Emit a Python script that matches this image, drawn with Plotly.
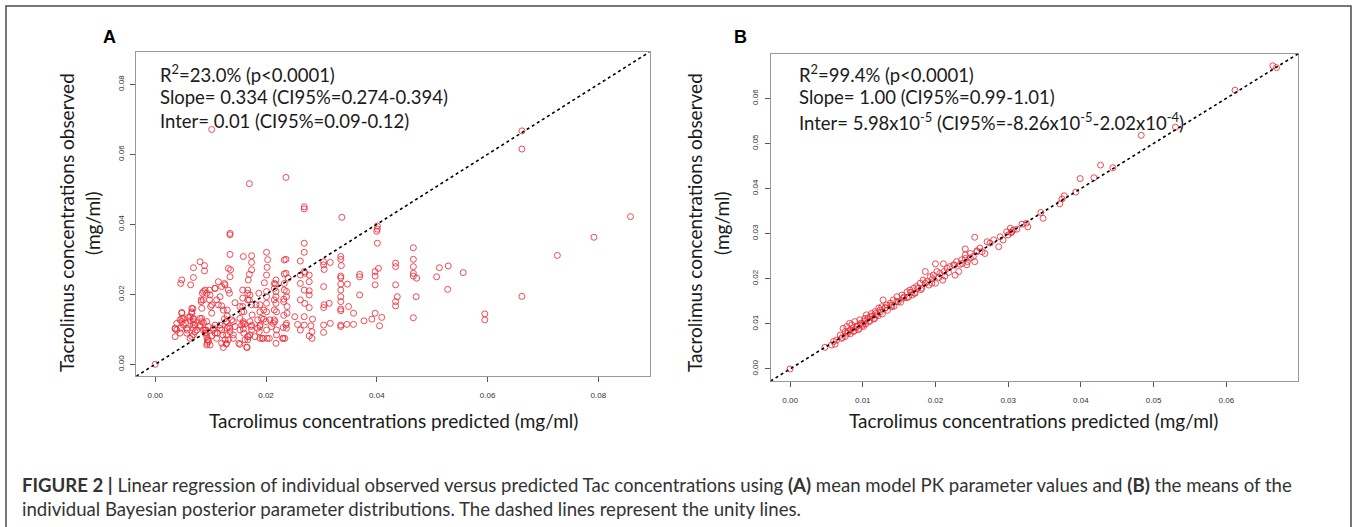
import plotly.graph_objects as go

# ---- Panel A: mean model PK parameters (predicted vs observed, mg/ml) ----
A_pred = [
    0.0,
    0.0135, 0.0135, 0.0135, 0.0081, 0.0089, 0.0089, 0.0069, 0.0048, 0.0046, 0.0069,
    0.0064, 0.0132, 0.0136, 0.0135, 0.0159, 0.0174, 0.0174, 0.0174, 0.0170, 0.0168,
    0.0201, 0.0203, 0.0202, 0.0201, 0.0218, 0.0217, 0.0236, 0.0236, 0.0240,
    0.0087, 0.0093, 0.0099, 0.0108, 0.0120, 0.0126, 0.0132, 0.0134,
    0.0102, 0.0087, 0.0084, 0.0111, 0.0114, 0.0120, 0.0123, 0.0102,
    0.0066, 0.0066, 0.0048, 0.0048, 0.0051, 0.0036, 0.0036, 0.0045, 0.0057, 0.0057,
    0.0069, 0.0069, 0.0072, 0.0069, 0.0081, 0.0084, 0.0081, 0.0087, 0.0090,
    0.0093, 0.0096, 0.0093, 0.0096, 0.0099, 0.0105, 0.0108, 0.0111,
    0.0117, 0.0120, 0.0122, 0.0123, 0.0129, 0.0132, 0.0135, 0.0132, 0.0129,
    0.0141, 0.0144, 0.0141,
    0.0153, 0.0156, 0.0153, 0.0159, 0.0156, 0.0159, 0.0160, 0.0153, 0.0166,
    0.0171, 0.0170, 0.0174, 0.0171, 0.0174, 0.0171,
    0.0189, 0.0189, 0.0192, 0.0189, 0.0188, 0.0189,
    0.0201, 0.0201, 0.0201, 0.0201, 0.0200, 0.0202,
    0.0218, 0.0218, 0.0218, 0.0219, 0.0216, 0.0219,
    0.0237, 0.0237, 0.0238, 0.0238, 0.0236, 0.0237, 0.0234,
    0.0048, 0.0039, 0.0039, 0.0046, 0.0055, 0.0058, 0.0063, 0.0066, 0.0068, 0.0069,
    0.0069, 0.0066, 0.0063, 0.0083, 0.0083, 0.0085, 0.0090, 0.0098, 0.0098, 0.0100,
    0.0092, 0.0092, 0.0094, 0.0094, 0.0108, 0.0114, 0.0117, 0.0125, 0.0130, 0.0130,
    0.0125, 0.0128, 0.0130, 0.0128, 0.0144, 0.0151, 0.0158, 0.0158, 0.0158, 0.0160,
    0.0162, 0.0167, 0.0167, 0.0167, 0.0167, 0.0167, 0.0173, 0.0175, 0.0182, 0.0185,
    0.0185, 0.0187, 0.0193, 0.0197, 0.0196, 0.0196, 0.0206, 0.0210, 0.0215, 0.0215,
    0.0215, 0.0215, 0.0215, 0.0218, 0.0232, 0.0232, 0.0233, 0.0233, 0.0232, 0.0231,
    0.0230, 0.0233, 0.0233,
    0.0036, 0.0045, 0.0048, 0.0051, 0.0060, 0.0063, 0.0069, 0.0072, 0.0075, 0.0081,
    0.0084, 0.0087, 0.0090, 0.0093, 0.0096, 0.0102, 0.0105, 0.0108, 0.0112, 0.0117,
    0.0120, 0.0126, 0.0129, 0.0135, 0.0138, 0.0141, 0.0153, 0.0159, 0.0162, 0.0165,
    0.0168, 0.0174, 0.0180, 0.0189, 0.0195, 0.0201, 0.0207, 0.0213, 0.0219, 0.0231,
    0.0237,
    0.0269, 0.0269, 0.0262, 0.0269, 0.0270, 0.0262, 0.0262, 0.0278, 0.0278,
    0.0269, 0.0278, 0.0278, 0.0262, 0.0270, 0.0278, 0.0252, 0.0269, 0.0284,
    0.0257, 0.0269, 0.0262, 0.0281, 0.0283, 0.0278, 0.0283,
    0.0304, 0.0304, 0.0305, 0.0316, 0.0304, 0.0305, 0.0304, 0.0314, 0.0304, 0.0304,
    0.0316,
    0.0335, 0.0335, 0.0336, 0.0335, 0.0335, 0.0335, 0.0335, 0.0335, 0.0335, 0.0335,
    0.0335, 0.0335, 0.0335,
    0.0347, 0.0349, 0.0358, 0.0346, 0.0358, 0.0369, 0.0369, 0.0369, 0.0377, 0.0391,
    0.0397, 0.0403, 0.0397, 0.0397, 0.0397, 0.0401, 0.0401, 0.0401, 0.0400, 0.0405,
    0.0409,
    0.0434, 0.0434, 0.0434, 0.0434, 0.0437, 0.0434,
    0.0466, 0.0466, 0.0466, 0.0466, 0.0466, 0.0472, 0.0471, 0.0466,
    0.0508, 0.0513, 0.0529, 0.0528, 0.0556, 0.0595, 0.0595, 0.0662, 0.0726, 0.0792,
    0.0858, 0.0662, 0.0662,
    0.0102, 0.0170, 0.0236, 0.0269, 0.0269, 0.0337,
]
A_obs = [
    0.0,
    0.0374, 0.0370, 0.0314, 0.0293, 0.0282, 0.0267, 0.0276, 0.0241, 0.0231, 0.0248,
    0.0227, 0.0274, 0.0270, 0.0250, 0.0308, 0.0310, 0.0291, 0.0270, 0.0257, 0.0241,
    0.0320, 0.0299, 0.0277, 0.0255, 0.0241, 0.0229, 0.0300, 0.0260, 0.0246,
    0.0208, 0.0203, 0.0198, 0.0217, 0.0222, 0.0227, 0.0212, 0.0203,
    0.0170, 0.0184, 0.0160, 0.0184, 0.0170, 0.0167, 0.0155, 0.0146,
    0.0160, 0.0146, 0.0146, 0.0122, 0.0112, 0.0103, 0.0079, 0.0089, 0.0103, 0.0089,
    0.0131, 0.0122, 0.0093, 0.0084, 0.0131, 0.0122, 0.0112, 0.0098, 0.0089,
    0.0122, 0.0108, 0.0079, 0.0065, 0.0055, 0.0103, 0.0089, 0.0074,
    0.0112, 0.0098, 0.0084, 0.0048, 0.0122, 0.0108, 0.0093, 0.0070, 0.0060,
    0.0122, 0.0108, 0.0084,
    0.0165, 0.0150, 0.0131, 0.0122, 0.0112, 0.0101, 0.0089, 0.0057, 0.0048,
    0.0198, 0.0184, 0.0170, 0.0122, 0.0112, 0.0084,
    0.0170, 0.0150, 0.0131, 0.0112, 0.0093, 0.0074,
    0.0208, 0.0193, 0.0174, 0.0150, 0.0122, 0.0074,
    0.0208, 0.0193, 0.0174, 0.0150, 0.0122, 0.0084,
    0.0208, 0.0193, 0.0165, 0.0146, 0.0112, 0.0103, 0.0074,
    0.0131, 0.0117, 0.0098, 0.0103, 0.0117, 0.0098, 0.0136, 0.0150, 0.0159, 0.0112,
    0.0103, 0.0079, 0.0074, 0.0184, 0.0179, 0.0203, 0.0212, 0.0212, 0.0184, 0.0165,
    0.0098, 0.0089, 0.0070, 0.0060, 0.0217, 0.0236, 0.0193, 0.0231, 0.0155, 0.0138,
    0.0130, 0.0122, 0.0103, 0.0058, 0.0176, 0.0060, 0.0212, 0.0189, 0.0165, 0.0150,
    0.0115, 0.0212, 0.0203, 0.0184, 0.0079, 0.0070, 0.0108, 0.0141, 0.0170, 0.0127,
    0.0103, 0.0203, 0.0074, 0.0233, 0.0155, 0.0129, 0.0074, 0.0108, 0.0231, 0.0217,
    0.0184, 0.0155, 0.0127, 0.0060, 0.0186, 0.0179, 0.0231, 0.0212, 0.0140, 0.0105,
    0.0074, 0.0258, 0.0298,
    0.0101, 0.0127, 0.0148, 0.0131, 0.0134, 0.0125, 0.0129, 0.0112, 0.0098, 0.0108,
    0.0131, 0.0119, 0.0098, 0.0055, 0.0070, 0.0081, 0.0098, 0.0112, 0.0089, 0.0103,
    0.0060, 0.0070, 0.0084, 0.0103, 0.0127, 0.0074, 0.0098, 0.0117, 0.0070, 0.0049,
    0.0079, 0.0098, 0.0079, 0.0108, 0.0074, 0.0098, 0.0127, 0.0117, 0.0098, 0.0074,
    0.0117,
    0.0346, 0.0320, 0.0295, 0.0265, 0.0260, 0.0255, 0.0231, 0.0255, 0.0236,
    0.0212, 0.0210, 0.0198, 0.0184, 0.0174, 0.0162, 0.0136, 0.0136, 0.0129,
    0.0114, 0.0112, 0.0098, 0.0110, 0.0093, 0.0081, 0.0074,
    0.0293, 0.0284, 0.0271, 0.0291, 0.0222, 0.0170, 0.0162, 0.0174, 0.0112, 0.0091,
    0.0117,
    0.0308, 0.0300, 0.0282, 0.0252, 0.0247, 0.0229, 0.0212, 0.0193, 0.0179, 0.0158,
    0.0153, 0.0112, 0.0108,
    0.0229, 0.0165, 0.0146, 0.0114, 0.0114, 0.0257, 0.0250, 0.0198, 0.0124, 0.0129,
    0.0146, 0.0274, 0.0265, 0.0252, 0.0227, 0.0346, 0.0395, 0.0386, 0.0380, 0.0110,
    0.0134,
    0.0289, 0.0279, 0.0227, 0.0179, 0.0193, 0.0167,
    0.0333, 0.0300, 0.0279, 0.0260, 0.0252, 0.0246, 0.0193, 0.0133,
    0.0250, 0.0276, 0.0281, 0.0214, 0.0262, 0.0144, 0.0127, 0.0194, 0.0311, 0.0363,
    0.0422, 0.0667, 0.0615,
    0.0671, 0.0516, 0.0534, 0.0450, 0.0444, 0.0420,
]

# ---- Panel B: individual Bayesian posterior means ----
B_pred = [
    0.0,
    0.0048, 0.0057, 0.0060, 0.0064, 0.0062, 0.0069, 0.0071, 0.0073, 0.0076, 0.0078,
    0.0079, 0.0082, 0.0085, 0.0083, 0.0087, 0.0089, 0.0092, 0.0094, 0.0096, 0.0099,
    0.0101, 0.0103, 0.0105, 0.0108, 0.0110, 0.0112, 0.0115, 0.0117, 0.0119, 0.0122,
    0.0124, 0.0126, 0.0128, 0.0131, 0.0133, 0.0138, 0.0140, 0.0142, 0.0147, 0.0149,
    0.0154, 0.0156, 0.0161, 0.0163, 0.0165, 0.0170, 0.0172, 0.0174, 0.0179, 0.0181,
    0.0183, 0.0186, 0.0188, 0.0193, 0.0195, 0.0197, 0.0200, 0.0202, 0.0206, 0.0211,
    0.0213, 0.0216, 0.0220, 0.0225, 0.0227, 0.0229, 0.0232, 0.0236, 0.0241, 0.0243,
    0.0241, 0.0248, 0.0254, 0.0254, 0.0252, 0.0257, 0.0261, 0.0268, 0.0271, 0.0275,
    0.0280, 0.0287, 0.0289, 0.0293, 0.0298, 0.0303, 0.0305, 0.0300,
    0.0304, 0.0307, 0.0312, 0.0319, 0.0325, 0.0327, 0.0345, 0.0348, 0.0371, 0.0374,
    0.0377, 0.0393, 0.0399, 0.0418, 0.0427, 0.0444, 0.0483, 0.0530, 0.0612, 0.0664,
    0.0669,
    0.0072, 0.0076, 0.0080, 0.0083, 0.0087, 0.0088, 0.0092, 0.0095, 0.0097, 0.0100,
    0.0102, 0.0104, 0.0107, 0.0110, 0.0113, 0.0116, 0.0118, 0.0121, 0.0124, 0.0127,
    0.0131, 0.0134, 0.0139, 0.0143, 0.0147, 0.0152, 0.0157, 0.0161, 0.0166, 0.0171,
    0.0176, 0.0180, 0.0186, 0.0191, 0.0196, 0.0205, 0.0212, 0.0218, 0.0226, 0.0234,
    0.0241, 0.0248, 0.0257, 0.0264,
    0.0244, 0.0237, 0.0200, 0.0210, 0.0168,
]
B_obs = [
    0.0,
    0.0048, 0.0053, 0.0061, 0.0064, 0.0055, 0.0075, 0.0068, 0.0090, 0.0083, 0.0094,
    0.0079, 0.0101, 0.0098, 0.0087, 0.0083, 0.0105, 0.0094, 0.0087, 0.0109, 0.0101,
    0.0094, 0.0112, 0.0120, 0.0105, 0.0116, 0.0123, 0.0112, 0.0127, 0.0120, 0.0135,
    0.0131, 0.0138, 0.0153, 0.0135, 0.0142, 0.0146, 0.0138, 0.0153, 0.0160, 0.0149,
    0.0164, 0.0157, 0.0171, 0.0160, 0.0175, 0.0179, 0.0168, 0.0183, 0.0190, 0.0179,
    0.0197, 0.0216, 0.0194, 0.0205, 0.0190, 0.0208, 0.0233, 0.0216, 0.0212, 0.0233,
    0.0206, 0.0223, 0.0227, 0.0231, 0.0208, 0.0238, 0.0216, 0.0242, 0.0253, 0.0231,
    0.0266, 0.0256, 0.0292, 0.0238, 0.0249, 0.0260, 0.0268, 0.0256, 0.0282, 0.0279,
    0.0286, 0.0271, 0.0293, 0.0286, 0.0304, 0.0312, 0.0304, 0.0297,
    0.0302, 0.0308, 0.0310, 0.0321, 0.0323, 0.0315, 0.0347, 0.0334, 0.0366, 0.0377,
    0.0384, 0.0392, 0.0422, 0.0424, 0.0452, 0.0446, 0.0518, 0.0536, 0.0618, 0.0672,
    0.0668,
    0.0070, 0.0072, 0.0083, 0.0078, 0.0091, 0.0084, 0.0095, 0.0090, 0.0101, 0.0097,
    0.0106, 0.0100, 0.0112, 0.0106, 0.0117, 0.0111, 0.0123, 0.0118, 0.0126, 0.0122,
    0.0136, 0.0130, 0.0141, 0.0139, 0.0150, 0.0148, 0.0160, 0.0158, 0.0170, 0.0168,
    0.0179, 0.0176, 0.0190, 0.0186, 0.0200, 0.0203, 0.0216, 0.0214, 0.0230, 0.0232,
    0.0245, 0.0246, 0.0262, 0.0260,
    0.0238, 0.0234, 0.0190, 0.0197, 0.0164,
]

A_ticks = [0.00, 0.02, 0.04, 0.06, 0.08]
B_ticks = [0.00, 0.01, 0.02, 0.03, 0.04, 0.05, 0.06]

A_stats = ["R<sup>2</sup>=23.0% (p<0.0001)",
           "Slope= 0.334 (CI95%=0.274-0.394)",
           "Inter= 0.01 (CI95%=0.09-0.12)"]
B_stats = ["R<sup>2</sup>=99.4% (p<0.0001)",
           "Slope= 1.00 (CI95%=0.99-1.01)",
           "Inter= 5.98x10<sup>-5</sup> (CI95%=-8.26x10<sup>-5</sup>-2.02x10<sup>-4</sup>)"]

X_TITLE = "Tacrolimus concentrations predicted (mg/ml)"
Y_TITLE = ["Tacrolimus concentrations observed", "(mg/ml)"]

CAPTION_1 = ("<b>FIGURE 2 |</b> Linear regression of individual observed versus predicted Tac "
             "concentrations using <b>(A)</b> mean model PK parameter values and <b>(B)</b> "
             "the means of the")
CAPTION_2 = ("individual Bayesian posterior parameter distributions. The dashed lines "
             "represent the unity lines.")

W, H = 1357, 527


def fx(px):
    return px / W


def fy(py):
    return 1 - py / H


def r_range(*cols):
    """Axis limits as R draws them: data range padded by 4% on each side."""
    vals = [v for c in cols for v in c]
    lo, hi = min(vals), max(vals)
    pad = 0.04 * (hi - lo)
    return lo - pad, hi + pad


A_lo, A_hi = r_range(A_pred)
B_lo, B_hi = r_range(B_pred, B_obs)

RED = "rgba(236,45,55,0.85)"
LABEL_FONT = "Lato, 'Open Sans', sans-serif"

fig = go.Figure()
for xs, ys, xa, ya in [(A_pred, A_obs, "x", "y"), (B_pred, B_obs, "x2", "y2")]:
    fig.add_trace(go.Scatter(
        x=xs, y=ys, mode="markers", xaxis=xa, yaxis=ya, showlegend=False,
        hoverinfo="skip",
        marker=dict(symbol="circle-open", size=6, color=RED, line=dict(width=1, color=RED)),
    ))

axis_common = dict(
    showgrid=False, zeroline=False, showline=True, mirror=True,
    linecolor="#9a9a9a", linewidth=1,
    ticks="outside", ticklen=5, tickwidth=1, tickcolor="#555555",
    tickformat=".2f", tickfont=dict(family="Liberation Sans, Arial", size=8, color="#333333"),
)

fig.update_layout(
    width=W, height=H, margin=dict(l=0, r=0, t=0, b=0),
    paper_bgcolor="white", plot_bgcolor="white",
    xaxis=dict(axis_common, domain=[fx(136.2), fx(649.5)], range=[A_lo, A_hi],
               tickvals=A_ticks, anchor="y", ticklabelstandoff=6),
    yaxis=dict(axis_common, domain=[fy(376.3), fy(52.0)], range=[A_lo, A_hi],
               tickvals=A_ticks, anchor="x", tickangle=-90, ticklabelstandoff=3),
    xaxis2=dict(axis_common, domain=[fx(770.5), fx(1298.2)], range=[B_lo, B_hi],
                tickvals=B_ticks, anchor="y2", ticklabelstandoff=6),
    yaxis2=dict(axis_common, domain=[fy(381.1), fy(53.7)], range=[B_lo, B_hi],
                tickvals=B_ticks, anchor="x2", tickangle=-90, ticklabelstandoff=3),
)

# unity lines, clipped to each plotting region
for xr, yr, lo, hi in [("x", "y", A_lo, A_hi), ("x2", "y2", B_lo, B_hi)]:
    fig.add_shape(type="line", xref=xr, yref=yr, x0=lo, y0=lo, x1=hi, y1=hi,
                  line=dict(color="black", width=1.6, dash="3px,3px"))

# outer figure frame
fig.add_shape(type="rect", xref="paper", yref="paper",
              x0=fx(6), x1=fx(1351), y0=fy(540), y1=fy(6),
              line=dict(color="#4a4a4a", width=1.5))

ann = []
# panel letters
for letter, x in [("A", 110), ("B", 741)]:
    ann.append(dict(text=f"<b>{letter}</b>", x=fx(x), y=fy(37), xref="paper", yref="paper",
                    showarrow=False, xanchor="center", yanchor="middle",
                    font=dict(family="Liberation Sans, Arial", size=18, color="black")))
# regression statistics
for stats, x in [(A_stats, 158), (B_stats, 797)]:
    for i, line in enumerate(stats):
        ann.append(dict(text=line, x=fx(x), y=fy(73 + 24 * i), xref="paper", yref="paper",
                        showarrow=False, xanchor="left", yanchor="middle",
                        font=dict(family=LABEL_FONT, size=18.5, color="#1a1a1a")))
# axis titles
for cx, l1, l2 in [(393, 67, 93), (1033, 695, 722)]:
    ann.append(dict(text=X_TITLE, x=fx(cx), y=fy(420), xref="paper", yref="paper",
                    showarrow=False, xanchor="center", yanchor="middle",
                    font=dict(family=LABEL_FONT, size=19, color="#1a1a1a")))
    for xpos, txt in [(l1, Y_TITLE[0]), (l2, Y_TITLE[1])]:
        ann.append(dict(text=txt, x=fx(xpos), y=fy(223), xref="paper", yref="paper",
                        showarrow=False, xanchor="center", yanchor="middle", textangle=-90,
                        font=dict(family=LABEL_FONT, size=19, color="#1a1a1a")))
# caption
for txt, y in [(CAPTION_1, 485), (CAPTION_2, 509)]:
    ann.append(dict(text=txt, x=fx(20), y=fy(y), xref="paper", yref="paper",
                    showarrow=False, xanchor="left", yanchor="middle",
                    font=dict(family=LABEL_FONT, size=18.6, color="#333333")))
fig.update_layout(annotations=ann)

fig.write_html("out.html", config={"displayModeBar": False})
